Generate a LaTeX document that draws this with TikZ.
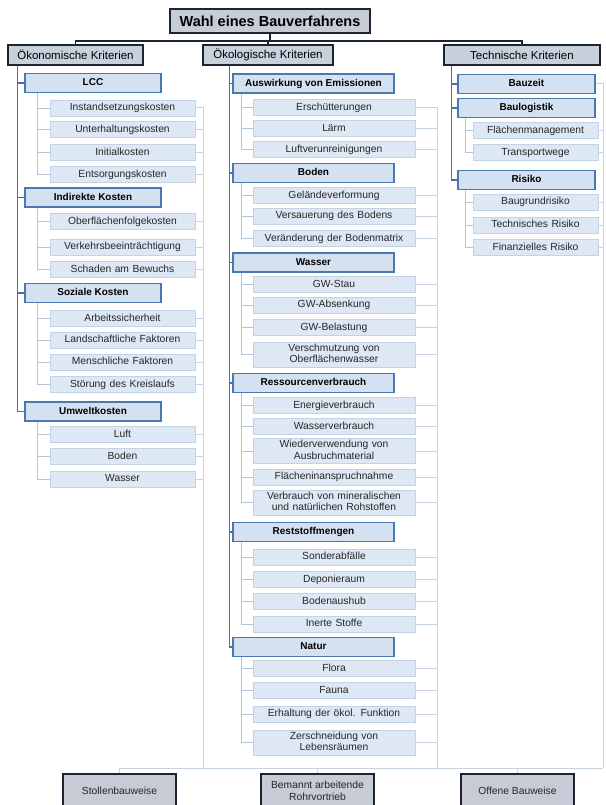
\documentclass[tikz,border=0pt]{standalone}
\usepackage{fontspec}
\setmainfont{Liberation Sans}

\definecolor{darkline}{HTML}{1B2430}
\definecolor{headgray}{HTML}{C7CBD5}
\definecolor{critgray}{HTML}{C8D0DC}
\definecolor{groupblue}{HTML}{4A78B0}
\definecolor{groupfill}{HTML}{D4E1F0}
\definecolor{barblue}{HTML}{4A6E9E}
\definecolor{itemedge}{HTML}{C3D3E7}
\definecolor{itemfill}{HTML}{DDE8F4}
\definecolor{linelight}{HTML}{B5C5D9}
\definecolor{sinklight}{HTML}{C5D3E3}
\definecolor{textgray}{HTML}{262626}

\begin{document}
\begin{tikzpicture}[x=1pt, y=-1pt, every node/.style={inner sep=0pt, align=center}]
    % Styles
    \tikzstyle{mainbox} = [draw=darkline, line width=1.6pt, fill=headgray, minimum width=200pt, minimum height=24pt, font=\bfseries\fontsize{14.5}{16}\selectfont]
    \tikzstyle{crit} = [draw=darkline, line width=1.4pt, fill=critgray, minimum height=20pt, font=\fontsize{11.5}{13}\selectfont]
    \tikzstyle{groupbox} = [draw=groupblue, line width=1.6pt, fill=groupfill, minimum height=19pt, text height=7.3pt, text depth=2.1pt, font=\bfseries\fontsize{10}{11}\selectfont]
    \tikzstyle{itembox} = [draw=itemedge, line width=0.9pt, fill=itemfill, minimum height=16pt, text height=7.5pt, text depth=2.2pt, font=\fontsize{10.3}{11.5}\selectfont, text=textgray]
    \tikzstyle{twoline} = [minimum height=25pt, text depth=13.7pt]
    \tikzstyle{lgroup} = [groupbox, minimum width=136pt]
    \tikzstyle{mgroup} = [groupbox, minimum width=161pt]
    \tikzstyle{rgroup} = [groupbox, minimum width=137pt]
    \tikzstyle{litem} = [itembox, text width=145pt]
    \tikzstyle{mitem} = [itembox, text width=162pt]
    \tikzstyle{ritem} = [itembox, text width=125pt]
    \tikzstyle{variantbox} = [draw=darkline, line width=1.6pt, fill=headgray, minimum width=113pt, minimum height=34pt, font=\fontsize{10.3}{12}\selectfont, text=textgray]
    \tikzstyle{mainline} = [draw=darkline, line width=1.4pt]
    \tikzstyle{groupline} = [draw=barblue, line width=1.6pt]
    \tikzstyle{itemline} = [draw=linelight, line width=0.9pt]
    \tikzstyle{sinkline} = [draw=sinklight, line width=1pt]

    \fill[white] (0,0) rectangle (605,805);
    \clip (0,0) rectangle (605,805);

    % Top
    \node[mainbox] (wahl) at (270, 21) {Wahl eines Bauverfahrens};
    \node[crit, minimum width=135pt] (oekon) at (75.5, 55) {Ökonomische Kriterien};
    \node[crit, minimum width=130pt] (oekol) at (268, 55) {Ökologische Kriterien};
    \node[crit, minimum width=156pt] (tech) at (522, 55) {Technische Kriterien};

    % Oekonomische Kriterien
    \node[lgroup] (lcc) at (93, 83) {LCC};
    \node[litem] (instand) at (122.5, 108) {Instandsetzungskosten};
    \node[litem] (unterhalt) at (122.5, 129.5) {Unterhaltungskosten};
    \node[litem] (initial) at (122.5, 152.5) {Initialkosten};
    \node[litem] (entsorg) at (122.5, 174.5) {Entsorgungskosten};
    \node[lgroup] (indirekt) at (93, 197.5) {Indirekte Kosten};
    \node[litem] (oberfl) at (122.5, 221.5) {Oberflächenfolgekosten};
    \node[litem] (verkehr) at (122.5, 247) {Verkehrsbeeinträchtigung};
    \node[litem] (schaden) at (122.5, 269.5) {Schaden am Bewuchs};
    \node[lgroup] (sozial) at (93, 293) {Soziale Kosten};
    \node[litem] (arbeit) at (122.5, 318.5) {Arbeitssicherheit};
    \node[litem] (landschaft) at (122.5, 340) {Landschaftliche Faktoren};
    \node[litem] (mensch) at (122.5, 362) {Menschliche Faktoren};
    \node[litem] (stoerung) at (122.5, 384.5) {Störung des Kreislaufs};
    \node[lgroup] (umwelt) at (93, 411.5) {Umweltkosten};
    \node[litem] (luft) at (122.5, 434.5) {Luft};
    \node[litem] (lboden) at (122.5, 456.5) {Boden};
    \node[litem] (lwasser) at (122.5, 479) {Wasser};

    % Oekologische Kriterien
    \node[mgroup] (emiss) at (313.5, 83.5) {Auswirkung von Emissionen};
    \node[mitem] (erschuett) at (334, 107.5) {Erschütterungen};
    \node[mitem] (laerm) at (334, 128.5) {Lärm};
    \node[mitem] (luftver) at (334, 149.5) {Luftverunreinigungen};
    \node[mgroup] (boden) at (313.5, 173) {Boden};
    \node[mitem] (gelaende) at (334, 195.5) {Geländeverformung};
    \node[mitem] (versauer) at (334, 216) {Versauerung des Bodens};
    \node[mitem] (matrix) at (334, 238.5) {Veränderung der Bodenmatrix};
    \node[mgroup] (wasser) at (313.5, 262.5) {Wasser};
    \node[mitem] (gwstau) at (334, 284.5) {GW-Stau};
    \node[mitem] (gwabs) at (334, 305) {GW-Absenkung};
    \node[mitem] (gwbel) at (334, 327.5) {GW-Belastung};
    \node[mitem, twoline] (verschm) at (334, 354.5) {Verschmutzung von\\Oberflächenwasser};
    \node[mgroup] (ressource) at (313.5, 383) {Ressourcenverbrauch};
    \node[mitem] (energie) at (334, 405.5) {Energieverbrauch};
    \node[mitem] (wasserv) at (334, 426.5) {Wasserverbrauch};
    \node[mitem, twoline] (wiederv) at (334, 451) {Wiederverwendung von\\Ausbruchmaterial};
    \node[mitem] (flaeche) at (334, 477) {Flächeninanspruchnahme};
    \node[mitem, twoline] (rohstoff) at (334, 502.5) {Verbrauch von mineralischen\\und natürlichen Rohstoffen};
    \node[mgroup] (reststoff) at (313.5, 532) {Reststoffmengen};
    \node[mitem] (sonder) at (334, 557) {Sonderabfälle};
    \node[mitem] (deponie) at (334, 579.5) {Deponieraum};
    \node[mitem] (aushub) at (334, 601.5) {Bodenaushub};
    \node[mitem] (inert) at (334, 624) {Inerte Stoffe};
    \node[mgroup] (natur) at (313.5, 647) {Natur};
    \node[mitem] (flora) at (334, 668.5) {Flora};
    \node[mitem] (fauna) at (334, 690.5) {Fauna};
    \node[mitem] (erhalt) at (334, 714) {Erhaltung der ökol. Funktion};
    \node[mitem, twoline] (zerschn) at (334, 742.5) {Zerschneidung von\\Lebensräumen};

    % Technische Kriterien
    \node[rgroup] (bauzeit) at (526.5, 84) {Bauzeit};
    \node[rgroup] (logistik) at (526.5, 108) {Baulogistik};
    \node[ritem] (flaechenm) at (535.5, 130.5) {Flächenmanagement};
    \node[ritem] (transport) at (535.5, 152.5) {Transportwege};
    \node[rgroup] (risiko) at (526.5, 180) {Risiko};
    \node[ritem] (baugrund) at (535.5, 202) {Baugrundrisiko};
    \node[ritem] (techrisk) at (535.5, 225) {Technisches Risiko};
    \node[ritem] (finrisk) at (535.5, 247.5) {Finanzielles Risiko};

    % Bauweisen
    \node[variantbox] (stollen) at (119.5, 791) {Stollenbauweise};
    \node[variantbox] (rohr) at (317.5, 791) {Bemannt arbeitende\\Rohrvortrieb};
    \node[variantbox] (offen) at (517.5, 791) {Offene Bauweise};

    \coordinate (split) at (270, 41);
    \coordinate (lsink) at (203, 768);
    \coordinate (msink) at (437, 768);
    \coordinate (rsink) at (603, 768);

    % Tree lines
    \draw[mainline] (wahl.south) -- (split);
    \draw[mainline] (oekon.north) |- (split) -| (tech.north);
    \draw[mainline] (oekol.north) -- (oekol.north |- split);
    \foreach \g in {lcc,indirekt,sozial,umwelt}
        \draw[groupline] ([xshift=10pt]oekon.south west) |- (\g.west);
    \foreach \g in {emiss,boden,wasser,ressource,reststoff,natur}
        \draw[groupline] ([xshift=27pt]oekol.south west) |- (\g.west);
    \foreach \g in {bauzeit,logistik,risiko}
        \draw[groupline] ([xshift=8pt]tech.south west) |- (\g.west);

    \foreach \g/\l in {lcc/{instand,unterhalt,initial,entsorg}, indirekt/{oberfl,verkehr,schaden},
                       sozial/{arbeit,landschaft,mensch,stoerung}, umwelt/{luft,lboden,lwasser}}
        \foreach \c in \l \draw[itemline] ([xshift=13pt]\g.south west) |- (\c.west);
    \foreach \g/\l in {emiss/{erschuett,laerm,luftver}, boden/{gelaende,versauer,matrix},
                       wasser/{gwstau,gwabs,gwbel,verschm}, ressource/{energie,wasserv,wiederv,flaeche,rohstoff},
                       reststoff/{sonder,deponie,aushub,inert}, natur/{flora,fauna,erhalt,zerschn}}
        \foreach \c in \l \draw[itemline] ([xshift=9pt]\g.south west) |- (\c.west);
    \foreach \g/\l in {logistik/{flaechenm,transport}, risiko/{baugrund,techrisk,finrisk}}
        \foreach \c in \l \draw[itemline] ([xshift=8pt]\g.south west) |- (\c.west);

    % Lines to the Bauweisen
    \foreach \c in {instand,unterhalt,initial,entsorg,oberfl,verkehr,schaden,arbeit,landschaft,mensch,stoerung,luft,lboden,lwasser}
        \draw[sinkline] (\c.east) -| (lsink);
    \foreach \c in {erschuett,laerm,luftver,gelaende,versauer,matrix,gwstau,gwabs,gwbel,verschm,energie,wasserv,wiederv,flaeche,rohstoff,sonder,deponie,aushub,inert,flora,fauna,erhalt,zerschn}
        \draw[sinkline] (\c.east) -| (msink);
    \foreach \c in {bauzeit,flaechenm,transport,baugrund,techrisk,finrisk}
        \draw[sinkline] (\c.east) -| (rsink);
    \draw[sinkline] (stollen.north) |- (rsink);
    \draw[sinkline] (rohr.north) -- (rohr.north |- rsink);
    \draw[sinkline] (offen.north) -- (offen.north |- rsink);
\end{tikzpicture}
\end{document}
